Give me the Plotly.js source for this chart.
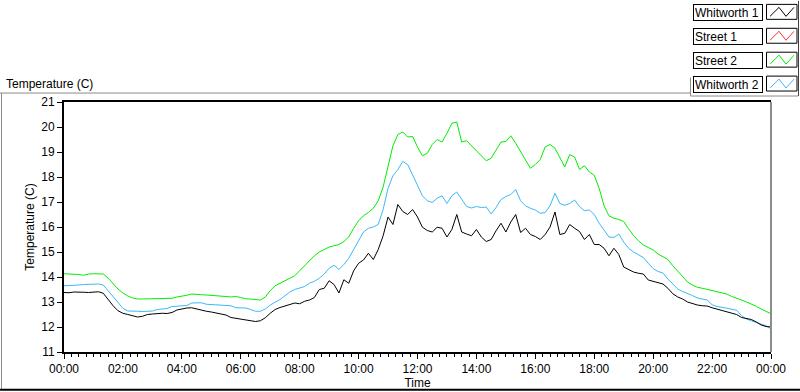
<!DOCTYPE html>
<html>
<head>
<meta charset="utf-8">
<script src="https://cdn.plot.ly/plotly-3.0.1.min.js"></script>
<style>
html,body{margin:0;padding:0;background:#fff;}
#chart{width:800px;height:392px;}
</style>
</head>
<body>
<div id="chart"></div>
<script>
// ---- data (time of day, 10-minute readings) ----
const times = [
"00:00","00:10","00:20","00:30","00:40","00:50","01:00","01:10","01:20","01:30","01:40","01:50",
"02:00","02:10","02:20","02:30","02:40","02:50","03:00","03:10","03:20","03:30","03:40","03:50",
"04:00","04:10","04:20","04:30","04:40","04:50","05:00","05:10","05:20","05:30","05:40","05:50",
"06:00","06:10","06:20","06:30","06:40","06:50","07:00","07:10","07:20","07:30","07:40","07:50",
"08:00","08:10","08:20","08:30","08:40","08:50","09:00","09:10","09:20","09:30","09:40","09:50",
"10:00","10:10","10:20","10:30","10:40","10:50","11:00","11:10","11:20","11:30","11:40","11:50",
"12:00","12:10","12:20","12:30","12:40","12:50","13:00","13:10","13:20","13:30","13:40","13:50",
"14:00","14:10","14:20","14:30","14:40","14:50","15:00","15:10","15:20","15:30","15:40","15:50",
"16:00","16:10","16:20","16:30","16:40","16:50","17:00","17:10","17:20","17:30","17:40","17:50",
"18:00","18:10","18:20","18:30","18:40","18:50","19:00","19:10","19:20","19:30","19:40","19:50",
"20:00","20:10","20:20","20:30","20:40","20:50","21:00","21:10","21:20","21:30","21:40","21:50",
"22:00","22:10","22:20","22:30","22:40","22:50","23:00","23:10","23:20","23:30","23:40","23:50",
"24:00"
];

const whitworth1 = [
13.38,13.37,13.40,13.38,13.39,13.38,13.41,13.41,13.35,13.10,12.85,12.65,
12.55,12.50,12.45,12.40,12.43,12.50,12.52,12.54,12.55,12.54,12.58,12.68,
12.73,12.76,12.77,12.72,12.66,12.63,12.60,12.56,12.54,12.48,12.38,12.35,
12.30,12.27,12.25,12.22,12.25,12.37,12.55,12.70,12.78,12.85,12.90,12.96,
12.93,13.03,13.08,13.18,13.50,13.55,13.85,13.70,13.36,13.89,13.75,14.25,
14.55,14.68,14.95,14.70,15.10,15.65,16.40,16.10,16.90,16.62,16.50,16.70,
16.40,15.99,15.86,15.80,15.99,15.95,15.60,15.90,16.50,15.80,15.72,15.65,
15.90,15.60,15.42,15.50,15.85,16.15,15.80,16.20,16.50,15.78,15.95,15.70,
15.62,15.50,15.70,16.00,16.60,15.70,15.75,16.10,15.95,15.82,15.50,15.70,
15.30,15.30,15.15,14.85,15.15,14.90,14.40,14.30,14.20,14.15,14.12,13.88,
13.82,13.78,13.72,13.55,13.33,13.20,13.12,13.00,12.93,12.88,12.85,12.84,
12.77,12.72,12.68,12.62,12.56,12.50,12.38,12.33,12.30,12.20,12.08,12.02,
12.00
];

const street1 = [];

const street2 = [
14.13,14.13,14.12,14.10,14.07,14.12,14.13,14.13,14.12,13.95,13.72,13.52,
13.36,13.24,13.16,13.12,13.12,13.12,13.12,13.12,13.13,13.13,13.15,13.20,
13.22,13.27,13.32,13.32,13.29,13.28,13.27,13.25,13.26,13.22,13.20,13.22,
13.18,13.13,13.12,13.11,13.08,13.20,13.45,13.65,13.75,13.85,13.95,14.05,
14.25,14.45,14.65,14.85,15.00,15.10,15.20,15.25,15.30,15.42,15.60,15.95,
16.25,16.45,16.58,16.75,17.05,17.60,18.45,19.25,19.70,19.80,19.60,19.62,
19.20,18.85,18.95,19.30,19.50,19.40,19.75,20.15,20.20,19.40,19.45,19.25,
19.05,18.85,18.65,18.75,19.05,19.40,19.42,19.65,19.35,19.00,18.70,18.35,
18.50,18.70,19.20,19.30,19.15,18.80,18.40,18.90,18.80,18.30,18.45,18.20,
18.07,17.55,16.85,16.45,16.35,16.30,16.22,15.93,15.66,15.45,15.28,15.18,
15.08,14.92,14.80,14.70,14.45,14.23,14.00,13.80,13.68,13.59,13.55,13.51,
13.47,13.42,13.37,13.32,13.22,13.16,13.08,13.00,12.92,12.83,12.72,12.63,
12.53
];

const whitworth2 = [
13.65,13.66,13.64,13.68,13.70,13.71,13.72,13.72,13.68,13.45,13.18,12.95,
12.75,12.64,12.62,12.63,12.62,12.63,12.64,12.70,12.71,12.74,12.82,12.84,
12.83,12.86,12.96,12.95,12.97,12.91,12.90,12.88,12.90,12.89,12.85,12.77,
12.78,12.76,12.70,12.63,12.63,12.72,12.88,12.98,13.10,13.25,13.40,13.50,
13.55,13.62,13.75,13.83,13.95,14.12,14.35,14.47,14.30,14.50,14.75,15.10,
15.50,15.80,15.95,16.00,16.10,16.70,17.55,18.05,18.30,18.62,18.50,18.10,
17.65,17.25,17.05,16.98,17.15,17.25,16.94,17.25,17.40,17.12,16.82,16.76,
16.82,16.78,16.80,16.52,16.78,17.10,17.22,17.30,17.50,17.05,16.85,16.75,
16.68,16.55,16.58,16.85,17.35,16.94,16.87,16.94,17.08,16.82,16.65,16.68,
16.50,16.15,15.85,15.60,15.58,15.72,15.40,15.15,15.00,14.90,14.78,14.55,
14.33,14.22,14.16,13.92,13.70,13.52,13.42,13.35,13.26,13.16,13.12,13.08,
12.89,12.82,12.79,12.76,12.72,12.67,12.45,12.32,12.25,12.19,12.12,12.05,
11.92
];

const seriesNames = ["Whitworth 1", "Street 1", "Street 2", "Whitworth 2"];
const yTickVals = [11,12,13,14,15,16,17,18,19,20,21];

// ---- styling ----
const colors = ["#000000", "#ff3030", "#00ee00", "#3cb8f8"];
const FONT = "Liberation Sans, Arial, sans-serif";

function toStamp(t) {
  if (t === "24:00") return "2000-01-02 00:00";
  return "2000-01-01 " + t;
}
const xs = times.map(toStamp);
const seriesData = [whitworth1, street1, street2, whitworth2];

const traces = seriesData.map((ys, i) => ({
  type: "scatter",
  mode: "lines",
  name: seriesNames[i],
  x: xs.slice(0, ys.length),
  y: ys,
  line: {color: colors[i], width: 1},
  hoverinfo: "skip"
}));
const ordered = [traces[2], traces[3], traces[1], traces[0]];

// plot area in pixels
const L = 64, R = 771, T = 101.5, B = 352.5;
const W = 800, H = 392;
const px = x => (x - L) / (R - L);
const py = y => (B - y) / (B - T);

const shapes = [];
const annotations = [];

// outer frame lines
shapes.push({type:"line", xref:"paper", yref:"paper", x0:px(0), x1:px(690), y0:py(92.5), y1:py(92.5), line:{color:"#8c8c8c", width:1}});
shapes.push({type:"line", xref:"paper", yref:"paper", x0:px(1.5), x1:px(1.5), y0:py(92.5), y1:py(390), line:{color:"#8c8c8c", width:1}});
shapes.push({type:"line", xref:"paper", yref:"paper", x0:px(0), x1:px(800), y0:py(390.5), y1:py(390.5), line:{color:"#000", width:2}});
// legend enclosure
shapes.push({type:"line", xref:"paper", yref:"paper", x0:px(690.5), x1:px(690.5), y0:py(77), y1:py(95.5), line:{color:"#8c8c8c", width:1}});
shapes.push({type:"line", xref:"paper", yref:"paper", x0:px(690.5), x1:px(798), y0:py(95.5), y1:py(95.5), line:{color:"#8c8c8c", width:1}});
shapes.push({type:"line", xref:"paper", yref:"paper", x0:px(798.5), x1:px(798.5), y0:py(0), y1:py(95.5), line:{color:"#404040", width:1}});
// plot right border (grey)
shapes.push({type:"line", xref:"paper", yref:"paper", x0:1, x1:1, y0:0, y1:1, line:{color:"#8c8c8c", width:2}});

// custom legend
const legTops = [3.5, 27.5, 51.5, 75.5];
seriesNames.forEach((nm, i) => {
  const top = legTops[i], bot = top + 15;
  annotations.push({
    xref:"paper", yref:"paper", x:px(692.5), y:py(top), xanchor:"left", yanchor:"top",
    text:nm, showarrow:false, align:"left", width:66, height:13,
    bordercolor:"#000", borderwidth:1, borderpad:1,
    font:{family:FONT, size:12, color:"#000"}
  });
  shapes.push({type:"rect", xref:"paper", yref:"paper", x0:px(766.5), x1:px(797), y0:py(top), y1:py(bot),
    line:{color:"#000", width:1}, fillcolor:"#fff"});
  const pts = [[770, bot-3],[779, top+3],[786, bot-3],[794, top+3]];
  const path = "M " + pts.map(p => px(p[0]) + "," + py(p[1])).join(" L ");
  shapes.push({type:"path", xref:"paper", yref:"paper", path:path, line:{color:colors[i], width:1}});
});

// top-left caption
annotations.push({
  xref:"paper", yref:"paper", x:px(4), y:py(74), xanchor:"left", yanchor:"top",
  text:"Temperature (C)", showarrow:false,
  font:{family:FONT, size:12, color:"#000"}
});

const layout = {
  width: W, height: H,
  margin: {l:L, r:W-R, t:T, b:H-B, pad:0},
  paper_bgcolor: "#fff", plot_bgcolor: "#fff",
  showlegend: false,
  font: {family: FONT, size: 12, color: "#000"},
  xaxis: {
    type: "date",
    range: ["2000-01-01 00:00", "2000-01-02 00:00"],
    dtick: 7200000, tick0: "2000-01-01 00:00",
    tickformat: "%H:%M",
    ticks: "outside", ticklen: 5, tickwidth: 1, tickcolor: "#000",
    minor: {dtick: 900000, ticks: "outside", ticklen: 3, tickcolor: "#000", tickwidth: 1, showgrid: false},
    showgrid: false, zeroline: false,
    showline: true, linecolor: "#000", linewidth: 2, mirror: true,
    title: {text: "Time", font: {family: FONT, size: 12, color: "#000"}, standoff: 3},
    automargin: false, fixedrange: true
  },
  yaxis: {
    range: [11, 21],
    tickvals: yTickVals,
    ticks: "outside", ticklen: 5, tickwidth: 1, tickcolor: "#000",
    showgrid: false, zeroline: false,
    showline: true, linecolor: "#000", linewidth: 2,
    title: {text: "Temperature (C)", font: {family: FONT, size: 12, color: "#000"}, standoff: 4},
    automargin: false, fixedrange: true
  },
  shapes: shapes,
  annotations: annotations
};

Plotly.newPlot("chart", ordered, layout, {staticPlot: true, displayModeBar: false});
</script>
</body>
</html>
